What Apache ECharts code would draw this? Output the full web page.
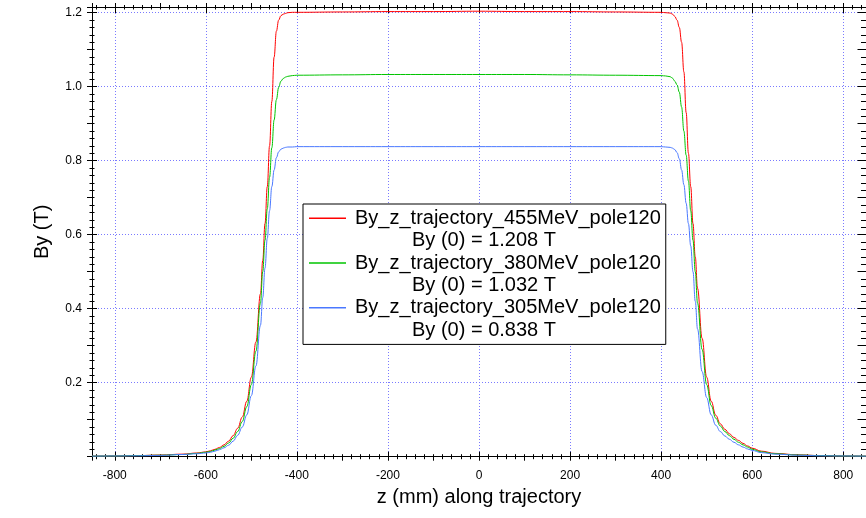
<!DOCTYPE html>
<html>
<head>
<meta charset="utf-8">
<script src="https://cdn.jsdelivr.net/npm/echarts@6/dist/echarts.min.js"></script>
<style>html,body{margin:0;padding:0;background:#fff;}#c{width:866px;height:518px;}</style>
</head>
<body>
<div id="c"></div>
<script>
// z positions (mm) along trajectory
const zValues = [-850,-800,-750,-700,-650,-620,-600,-590,-580,-570,-560,-550,-540,-530,-520,-510,-500,-490,-480,-475,-470,-465,-460,-455,-450,-445,-440,-435,-430,-425,-420,-410,-400,-300,-200,-100,0,
  100,200,300,400,410,420,425,430,435,440,445,450,455,460,465,470,475,480,490,500,510,520,530,540,550,560,570,580,590,600,620,650,700,750,800,850];

const by455 = [0.0015,0.002,0.003,0.0045,0.007,0.010,0.013,0.016,0.020,0.025,0.032,0.042,0.057,0.077,0.107,0.150,0.215,0.310,0.440,0.530,0.630,0.730,0.840,0.960,1.080,1.150,1.180,1.192,1.196,1.198,1.200,1.201,1.201,1.202,1.203,1.203,1.204,
  1.203,1.203,1.202,1.201,1.200,1.199,1.196,1.190,1.180,1.160,1.120,1.040,0.930,0.820,0.730,0.630,0.540,0.455,0.320,0.215,0.150,0.112,0.089,0.074,0.062,0.052,0.044,0.036,0.029,0.023,0.015,0.009,0.005,0.003,0.002,0.0015];

const by380 = [0.0015,0.002,0.003,0.004,0.006,0.009,0.012,0.014,0.018,0.022,0.028,0.037,0.050,0.068,0.095,0.135,0.195,0.285,0.415,0.500,0.585,0.670,0.755,0.835,0.910,0.965,0.998,1.015,1.022,1.026,1.028,1.030,1.031,1.032,1.033,1.033,1.033,
  1.033,1.032,1.031,1.030,1.029,1.027,1.023,1.015,1.005,0.985,0.945,0.880,0.815,0.745,0.665,0.585,0.500,0.415,0.290,0.195,0.138,0.104,0.083,0.068,0.057,0.047,0.039,0.032,0.026,0.020,0.013,0.008,0.0045,0.003,0.002,0.0015];

const by305 = [0.0015,0.002,0.0025,0.0035,0.006,0.008,0.010,0.012,0.015,0.019,0.024,0.031,0.042,0.058,0.080,0.113,0.165,0.245,0.355,0.430,0.510,0.590,0.665,0.730,0.775,0.808,0.824,0.831,0.834,0.836,0.837,0.837,0.838,0.838,0.838,0.838,0.838,
  0.838,0.838,0.838,0.838,0.837,0.836,0.834,0.830,0.822,0.805,0.775,0.735,0.685,0.630,0.570,0.500,0.420,0.345,0.230,0.160,0.113,0.085,0.068,0.056,0.047,0.039,0.032,0.026,0.021,0.017,0.011,0.007,0.004,0.0025,0.002,0.0015];

const seriesNames = ['By_z_trajectory_455MeV_pole120','By_z_trajectory_380MeV_pole120','By_z_trajectory_305MeV_pole120'];
const centerLabels = ['By (0) = 1.208 T','By (0) = 1.032 T','By (0) = 0.838 T'];
const seriesColors = ['#ff0000','#00c400','#4a78ff'];
const seriesValues = [by455, by380, by305];

const xTitle = 'z (mm) along trajectory';
const yTitle = 'By (T)';

const FONT = '"Liberation Sans", Arial, sans-serif';
const gridColor = '#7a7aff';

function pairs(vals){ return zValues.map((z,i)=>[z, vals[i]]); }

const X_MIN = -850, X_MAX = 850, Y_MIN = 0, Y_MAX = 1.2154;

function xAxisBase(pos, step){
  return {
    type:'value', position:pos, min:X_MIN, max:X_MAX, minInterval:step, maxInterval:step, splitNumber: Math.round((X_MAX-X_MIN)/step),
    axisLine:{show:true, onZero:false, lineStyle:{color:'#000', width:1}},
    axisLabel:{show:false}, splitLine:{show:false}, minorSplitLine:{show:false}
  };
}
function yAxisBase(pos, step){
  return {
    type:'value', position:pos, min:Y_MIN, max:Y_MAX, interval:step,
    axisLine:{show:true, onZero:false, lineStyle:{color:'#000', width:1}},
    axisLabel:{show:false}, splitLine:{show:false}, minorSplitLine:{show:false}
  };
}

const xAxes = [];
const xa0 = xAxisBase('bottom', 200);
Object.assign(xa0, {
  axisTick:{show:true, inside:true, length:5, lineStyle:{color:'#000'}},
  minorTick:{show:true, splitNumber:10, length:2.5, lineStyle:{color:'#000'}},
  axisLabel:{show:true, showMinLabel:false, showMaxLabel:false, margin:13, color:'#000', fontSize:12, fontFamily:FONT},
  splitLine:{show:true, lineStyle:{color:gridColor, type:[1,2], width:1}},
  name:xTitle, nameLocation:'middle', nameGap:31, nameTextStyle:{fontSize:20, color:'#000', fontFamily:FONT}
});
xAxes.push(xa0);
const xa1 = xAxisBase('bottom', 100);
Object.assign(xa1, {axisTick:{show:true, inside:false, length:4, lineStyle:{color:'#000'}},
  minorTick:{show:true, splitNumber:5, length:2.5, lineStyle:{color:'#000'}}});
xAxes.push(xa1);
const xa2 = xAxisBase('top', 200);
Object.assign(xa2, {axisTick:{show:true, inside:true, length:6, lineStyle:{color:'#000'}},
  minorTick:{show:true, splitNumber:10, length:2.5, lineStyle:{color:'#000'}}});
xAxes.push(xa2);
const xa3 = xAxisBase('top', 100);
Object.assign(xa3, {axisTick:{show:true, inside:false, length:4, lineStyle:{color:'#000'}},
  minorTick:{show:true, splitNumber:5, length:2, lineStyle:{color:'#000'}}});
xAxes.push(xa3);

const yAxes = [];
const ya0 = yAxisBase('left', 0.2);
Object.assign(ya0, {
  axisTick:{show:true, inside:true, length:5, lineStyle:{color:'#000'}},
  minorTick:{show:true, splitNumber:10, length:2.5, lineStyle:{color:'#000'}},
  axisLabel:{show:true, showMinLabel:false, showMaxLabel:false, margin:10, color:'#000', fontSize:12, fontFamily:FONT,
    formatter:function(v){ return v.toFixed(1); }},
  splitLine:{show:true, lineStyle:{color:gridColor, type:[1,2], width:1}},
  name:yTitle, nameLocation:'middle', nameGap:40, nameRotate:90, nameTextStyle:{fontSize:20, color:'#000', fontFamily:FONT}
});
yAxes.push(ya0);
const ya1 = yAxisBase('left', 0.1);
Object.assign(ya1, {axisTick:{show:true, inside:false, length:5, lineStyle:{color:'#000'}},
  minorTick:{show:true, splitNumber:5, length:2.5, lineStyle:{color:'#000'}}});
yAxes.push(ya1);
const ya2 = yAxisBase('right', 0.1);
Object.assign(ya2, {axisTick:{show:true, inside:true, length:8.5, lineStyle:{color:'#000'}},
  minorTick:{show:true, splitNumber:5, length:5, lineStyle:{color:'#000'}}});
yAxes.push(ya2);

const series = [];
const legendData = [];
seriesNames.forEach(function(n, i){
  series.push({
    name:n, type:'line', xAxisIndex:0, yAxisIndex:0, data:pairs(seriesValues[i]),
    showSymbol:false, symbol:'none', smooth:0.4, smoothMonotone:'x',
    color:seriesColors[i], lineStyle:{width:1, color:seriesColors[i]}, z:3
  });
  series.push({
    name:centerLabels[i], type:'line', xAxisIndex:0, yAxisIndex:0, data:[],
    color:'rgba(0,0,0,0)', lineStyle:{width:0}
  });
  legendData.push({name:n, icon:'rect', textStyle:{padding:[0,0,0,4]}});
  legendData.push({name:centerLabels[i], icon:'none', textStyle:{padding:[0,0,0,61]}});
});

const chart = echarts.init(document.getElementById('c'), null, {renderer:'canvas'});
chart.setOption({
  animation:false,
  backgroundColor:'#fff',
  grid:{left:92, right:-3.4, top:7, bottom:61.3, containLabel:false},
  xAxis:xAxes,
  yAxis:yAxes,
  legend:{
    show:true, orient:'vertical', left:303, top:204, selectedMode:false,
    itemWidth:37, itemHeight:1.5, itemGap:0, padding:[3,5,3,6],
    backgroundColor:'#fff', borderColor:'#000', borderWidth:1,
    textStyle:{fontSize:20, color:'#000', fontFamily:FONT, lineHeight:22.4},
    data:legendData
  },
  series:series
});
</script>
</body>
</html>
